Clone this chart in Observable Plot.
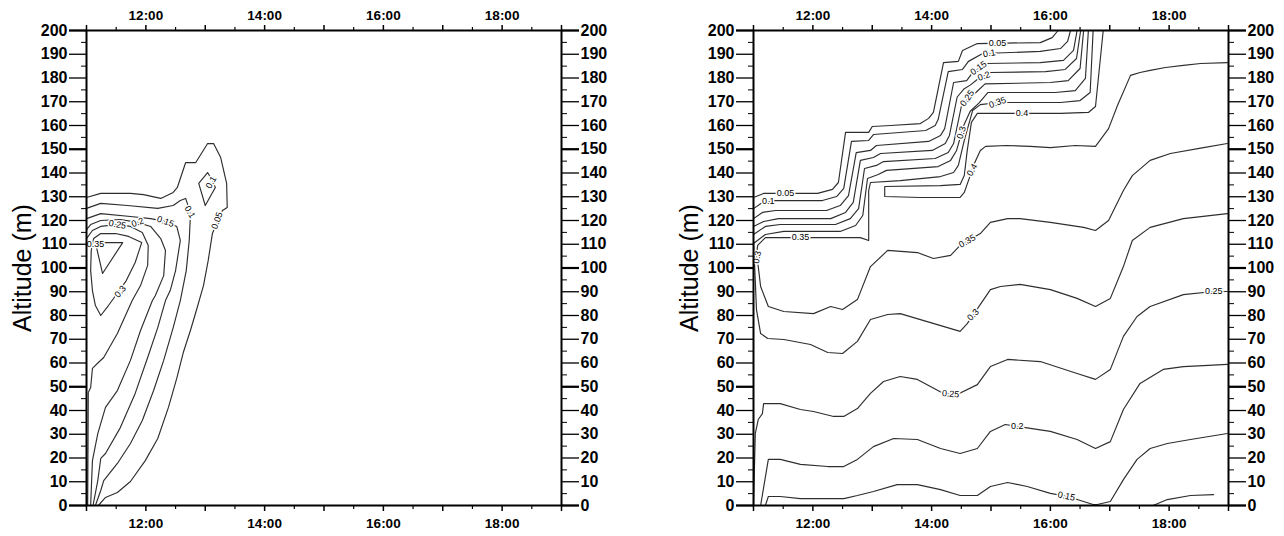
<!DOCTYPE html>
<html><head><meta charset="utf-8">
<script src="https://cdn.jsdelivr.net/npm/d3@7"></script>
<script src="https://cdn.jsdelivr.net/npm/@observablehq/plot@0.6"></script>
<style>
html,body{margin:0;padding:0;background:#fff;}
#wrap{display:flex;width:1284px;height:536px;overflow:hidden;}
#wrap svg{display:block;}
</style></head><body><div id="wrap"></div>
<script>
// ---------- axis ticks ----------
const hourTicks = [11,12,13,14,15,16,17,18,19];
const halfHourTicks = [11.5,12.5,13.5,14.5,15.5,16.5,17.5,18.5];
const hourLabels = [12,14,16,18];
const altitudeTicks = [0,10,20,30,40,50,60,70,80,90,100,110,120,130,140,150,160,170,180,190,200];
const altitudeMinorTicks = [5,15,25,35,45,55,65,75,85,95,105,115,125,135,145,155,165,175,185,195];
const altitudeBoldTicks = [0,50,100,150,200];

// ---------- left panel contours: [hour, altitude m] ----------
const leftC005 = [[11.00,129.7],[11.24,131.4],[11.74,131.4],[11.96,130.9],[12.25,129.3],[12.46,131.8],[12.53,133.9],[12.67,144.4],[12.84,144.4],[13.04,152.4],[13.14,152.4],[13.26,146.5],[13.36,135.6],[13.37,125.5],[13.29,124.2],[13.21,120],[13.12,114.5],[13.05,103.2],[12.97,92.6],[12.85,82.1],[12.75,73.7],[12.63,64.4],[12.52,53.5],[12.38,41.3],[12.20,28.2],[11.99,18.9],[11.74,10.1],[11.52,5.5],[11.32,3.4],[11.20,0]];
const leftC01inner = [[13.04,140.2],[13.12,136.8],[13.17,133.9],[13.00,126.3],[12.89,135.6],[13.04,140.2]];
const leftC01 = [[11.00,125.1],[11.24,127.2],[11.69,126.3],[12.20,125.1],[12.46,126.3],[12.58,128.4],[12.67,129.3],[12.72,125.5],[12.75,122.1],[12.73,111.6],[12.68,98.9],[12.58,86.3],[12.46,74.9],[12.30,61.1],[12.13,48.4],[11.94,35.8],[11.74,26.1],[11.52,17.7],[11.29,10.5],[11.24,6.3],[11.15,0]];
const leftC015 = [[11.00,120.8],[11.24,122.9],[11.74,121.7],[12.08,120.8],[12.33,119.6],[12.52,117.5],[12.58,111.6],[12.50,98.9],[12.41,90.5],[12.33,86.3],[12.20,74.9],[12.03,62.3],[11.82,47.2],[11.57,32.8],[11.32,21.9],[11.24,19.8],[11.19,10.5],[11.11,0]];
const leftC02 = [[11.00,116.2],[11.07,118.3],[11.24,120],[11.57,120.4],[11.86,119.2],[12.08,117.5],[12.25,112.4],[12.33,107.4],[12.30,96.8],[12.16,88.4],[12.11,86.3],[11.91,73.7],[11.74,61.1],[11.52,48.4],[11.32,41.3],[11.27,37.1],[11.19,30.3],[11.10,18.9],[11.07,0]];
const leftC025 = [[11.00,112.4],[11.10,115.8],[11.24,117.5],[11.52,118.3],[11.74,117.5],[11.94,114.9],[12.04,109.5],[12.03,101.1],[11.91,92.6],[11.77,86.3],[11.52,72.4],[11.29,62.3],[11.20,60.2],[11.10,57.7],[11.07,49.7],[11.03,47.6],[11.02,0]];
const leftC03 = [[11.08,107.4],[11.12,112.4],[11.24,114.5],[11.49,114.5],[11.71,113.3],[11.93,110.7],[11.82,102.3],[11.67,94.7],[11.54,90.1],[11.37,84.2],[11.24,80],[11.15,84.2],[11.10,90.5],[11.07,98.9],[11.08,107.4]];
const leftC035 = [[11.15,110.7],[11.61,110.7],[11.27,97.7],[11.15,110.7]];

const leftLabelTimes = [11.15,11.52,11.86,12.33,12.74,13.10,13.20,11.57];
const leftLabelAlts  = [109.9,118.3,119.2,119.6,123.6,136.0,120.0,90.1];
const leftLabelTexts = ["0.35","0.25","0.2","0.15","0.1","0.1","0.05","0.3"];
const leftLabelAngles = [0,10,-20,20,60,-60,-70,-50];

// ---------- right panel contours ----------
const rightC005 = [[11.00,129.7],[11.17,131.4],[12.08,131.4],[12.33,133.1],[12.43,136.0],[12.55,157.1],[12.94,157.1],[13.00,159.6],[13.31,160.0],[13.81,160.8],[13.95,163.0],[14.03,165.5],[14.20,186.5],[14.45,187.0],[14.52,191.6],[14.77,194.5],[15.83,194.9],[16.03,197.0],[16.13,200]];
const rightC01 = [[11.00,125.0],[11.15,127.6],[11.37,128.4],[12.16,128.4],[12.40,130.1],[12.52,133.5],[12.65,153.3],[12.94,153.7],[13.02,156.2],[13.90,157.9],[14.06,160.0],[14.11,162.5],[14.28,182.7],[14.52,183.6],[14.62,187.0],[14.86,190.3],[15.83,191.2],[16.17,192.4],[16.29,195.4],[16.34,200]];
const rightC015 = [[11.00,120.8],[11.15,123.4],[11.37,124.2],[12.23,124.2],[12.46,126.3],[12.60,130.5],[12.73,148.6],[12.97,149.5],[13.07,151.6],[13.95,153.3],[14.15,155.8],[14.22,158.7],[14.37,178.1],[14.59,178.9],[14.69,182.3],[14.92,186.1],[15.83,186.5],[16.22,187.4],[16.39,191.6],[16.45,200]];
const rightC02 = [[11.00,117.5],[11.17,119.6],[11.42,120.8],[12.30,120.8],[12.55,123.4],[12.68,127.6],[12.80,145.3],[13.02,146.5],[13.14,148.2],[14.01,149.5],[14.23,152.4],[14.30,155.8],[14.43,172.0],[14.55,175.5],[14.65,177.0],[14.80,180.0],[14.99,182.3],[15.92,182.7],[16.25,183.6],[16.44,188.2],[16.51,200]];
const rightC025 = [[11.00,114.1],[11.20,117.5],[11.45,118.3],[12.38,118.3],[12.63,120.8],[12.77,125.0],[12.87,141.9],[13.07,143.2],[13.19,144.8],[14.06,146.1],[14.28,148.6],[14.37,152.4],[14.50,168.0],[14.60,171.0],[14.75,174.0],[14.90,177.5],[16.00,178.1],[16.30,178.9],[16.50,184.0],[16.56,200]];
const rightC03 = [[16.64,200],[16.59,179.8],[16.42,174.7],[16.08,173.9],[14.95,173.9],[14.80,169.5],[14.65,166.0],[14.54,160.0],[14.42,149.5],[14.32,145.3],[14.11,142.7],[13.24,141.1],[13.10,139.4],[12.92,137.7],[12.84,122.1],[12.72,117.9],[12.46,115.4],[11.51,115.4],[11.20,114.1],[11.00,110.3],[11.02,100.6],[11.05,82.5],[11.12,72.4],[11.24,70.3],[11.51,69.9],[11.96,67.8],[12.25,64.4],[12.50,64.0],[12.75,69.1],[12.97,78.3],[13.26,80.4],[13.47,80.8],[14.48,73.3],[14.60,76.6],[14.99,90.9],[15.16,92.2],[15.49,93.1],[16.00,90.9],[16.45,87.2],[16.76,83.8],[17.01,87.2],[17.23,100.6],[17.38,111.6],[17.68,117.1],[18.24,120.8],[18.98,122.9]];
const rightC035 = [[16.72,200],[16.67,173.9],[16.50,170.5],[16.17,169.7],[15.12,169.7],[14.82,168.8],[14.69,166.3],[14.55,153.7],[14.45,143.2],[14.37,140.2],[14.15,138.5],[13.47,136.8],[12.97,136.0],[12.94,132.6],[12.94,111.6],[12.80,112.8],[11.79,112.8],[11.20,112.8],[11.07,109.5],[11.05,105.3],[11.08,100.6],[11.12,92.2],[11.25,83.8],[11.51,81.7],[12.01,80.8],[12.30,83.8],[12.50,82.5],[12.75,86.7],[12.97,100.6],[13.26,107.4],[13.76,106.5],[14.03,104.0],[14.32,105.3],[14.48,109.5],[14.82,114.5],[14.99,119.2],[15.28,120.8],[15.49,120.8],[16.00,119.2],[16.56,117.1],[16.76,115.8],[16.98,120.0],[17.23,132.6],[17.38,138.9],[17.68,145.3],[18.02,148.2],[18.58,150.7],[18.98,152.4]];
const rightC04 = [[16.89,200],[16.76,168.0],[16.64,165.5],[16.17,165.1],[15.16,165.1],[14.77,165.1],[14.67,161.3],[14.60,149.5],[14.55,138.9],[14.48,135.2],[14.15,134.7],[13.21,134.3],[13.21,130.1],[13.81,129.7],[14.48,129.7],[14.55,131.8],[14.62,136.8],[14.72,144.0],[14.82,149.5],[14.91,151.2],[15.26,151.6],[15.66,151.2],[16.00,150.7],[16.42,151.6],[16.76,151.2],[16.98,158.7],[17.13,168.4],[17.35,181.1],[17.51,182.3],[17.68,183.2],[17.94,184.4],[18.24,185.3],[18.53,186.1],[18.98,186.5]];
const rightC025low = [[11.00,0],[11.03,30.3],[11.08,36.2],[11.15,38.7],[11.17,42.9],[11.45,42.9],[11.79,40.4],[12.01,39.6],[12.35,37.5],[12.52,37.5],[12.75,40.8],[12.97,47.2],[13.19,52.2],[13.47,54.3],[13.76,53.1],[14.20,47.2],[14.43,46.7],[14.77,50.9],[14.99,58.5],[15.28,61.5],[15.83,60.6],[16.45,55.6],[16.76,53.1],[17.01,57.3],[17.23,71.2],[17.46,79.6],[17.68,83.8],[18.24,88.8],[18.75,90.1],[18.98,90.1]];
const rightC02low = [[11.12,0],[11.19,10.5],[11.25,19.4],[11.45,19.4],[11.79,17.3],[12.25,16.4],[12.52,16.4],[12.75,19.4],[13.02,24.8],[13.36,28.2],[13.76,27.8],[14.15,24.0],[14.48,21.9],[14.77,24.0],[14.99,31.2],[15.24,34.1],[15.44,33.3],[16.00,31.2],[16.45,27.8],[16.76,24.0],[17.01,26.9],[17.23,40.4],[17.51,51.4],[17.90,57.3],[18.24,58.5],[18.58,58.9],[18.98,59.4]];
const rightC015low = [[11.20,0],[11.25,3.8],[11.45,3.8],[11.79,2.9],[12.52,2.9],[12.75,4.2],[13.02,5.9],[13.42,8.8],[13.76,8.8],[14.15,6.7],[14.48,4.2],[14.77,4.2],[14.99,8.0],[15.28,9.7],[15.61,8.0],[16.00,5.1],[16.29,3.8],[16.72,0.4],[16.79,0.4],[17.01,1.7],[17.23,10.9],[17.46,19.4],[17.68,24.0],[17.97,26.1],[18.36,27.8],[18.98,30.3]];
const rightC01low = [[17.73,0],[17.97,2.5],[18.36,4.2],[18.75,4.6]];

const rightLabelTimes = [11.54,11.25,11.79,11.06,15.11,14.97,14.79,14.88,14.60,14.50,15.11,15.52,14.68,14.60,14.70,14.32,15.44,16.27,18.75];
const rightLabelAlts  = [131.4,128.0,112.8,104.5,194.7,190.4,184.2,180.8,171.5,157.0,169.7,165.1,141.3,111.3,80.3,47.0,33.5,3.9,90.1];
const rightLabelTexts = ["0.05","0.1","0.35","0.3","0.05","0.1","0.15","0.2","0.25","0.3","0.35","0.4","0.4","0.35","0.3","0.25","0.2","0.15","0.25"];
const rightLabelAngles = [0,0,0,-80,0,-10,-35,-20,-55,-72,-20,0,-60,-30,-45,5,0,12,0];

const FONT = "'Liberation Sans', Arial, Helvetica, sans-serif";

function labelTable(times, alts, texts, angles) {
  return times.map((t, i) => ({t, alt: alts[i], text: texts[i], angle: angles[i]}));
}

function axes() {
  const base = {label: null, stroke: "black"};
  const m = [];
  for (const anchor of ["left", "right"]) {
    m.push(Plot.axisY({...base, anchor, ticks: altitudeMinorTicks, tickSize: 5, tickFormat: () => "", strokeWidth: 1}));
    m.push(Plot.axisY({...base, anchor, ticks: altitudeTicks, tickSize: 17, tickPadding: 2, tickFormat: d => String(d),
      fontSize: 16, fontWeight: "bold", fontFamily: FONT, strokeWidth: 1.3}));
    m.push(Plot.axisY({...base, anchor, ticks: altitudeBoldTicks, tickSize: 17, tickFormat: () => "", strokeWidth: 2.2}));
  }
  for (const anchor of ["top", "bottom"]) {
    m.push(Plot.axisX({...base, anchor, ticks: halfHourTicks, tickSize: 4, tickFormat: () => "", strokeWidth: 1.2}));
    m.push(Plot.axisX({...base, anchor, ticks: hourTicks, tickSize: 6, tickFormat: () => "", strokeWidth: 1.5}));
    m.push(Plot.axisX({...base, anchor, ticks: hourLabels, tickSize: 0, tickPadding: anchor === "top" ? 11 : 13,
      tickFormat: d => d + ":00", fontSize: 13.5, fontWeight: "bold", fontFamily: FONT}));
  }
  m.push(Plot.frame({stroke: "black", strokeWidth: 2}));
  return m;
}

function panel(contours, labels, marginLeft, marginRight, titleX) {
  const plot = Plot.plot({
    width: 642, height: 536,
    marginLeft, marginRight, marginTop: 30, marginBottom: 31,
    x: {domain: [11, 19]},
    y: {domain: [0, 200]},
    style: {fontFamily: FONT, background: "white", overflow: "visible"},
    marks: [
      ...contours.map(c => Plot.line(c, {x: d => d[0], y: d => d[1], stroke: "#2e2e2e", strokeWidth: 1.15, strokeLinejoin: "round"})),
      Plot.text(labels, {x: "t", y: "alt", text: "text", rotate: "angle", fontSize: 9, fontFamily: FONT,
        fill: "black", stroke: "white", strokeWidth: 3, paintOrder: "stroke"}),
      ...axes()
    ]
  });
  d3.select(plot).append("text")
    .attr("transform", `translate(${titleX},268) rotate(-90)`)
    .attr("text-anchor", "middle")
    .attr("dominant-baseline", "central")
    .style("font-family", FONT)
    .style("font-size", "25px")
    .attr("fill", "black")
    .text("Altitude (m)");
  return plot;
}

const wrap = document.getElementById("wrap");
wrap.appendChild(panel(
  [leftC005, leftC01inner, leftC01, leftC015, leftC02, leftC025, leftC03, leftC035],
  labelTable(leftLabelTimes, leftLabelAlts, leftLabelTexts, leftLabelAngles),
  86, 81, 22));
wrap.appendChild(panel(
  [rightC005, rightC01, rightC015, rightC02, rightC025, rightC03, rightC035, rightC04, rightC025low, rightC02low, rightC015low, rightC01low],
  labelTable(rightLabelTimes, rightLabelAlts, rightLabelTexts, rightLabelAngles),
  111, 56, 47));
</script>
</body></html>
